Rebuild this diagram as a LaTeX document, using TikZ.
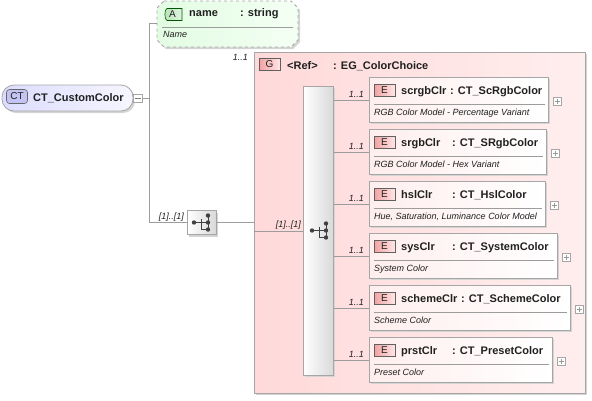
\documentclass[tikz,border=0pt]{standalone}
\usepackage{fontspec}
\setmainfont{Liberation Sans}
\usetikzlibrary{calc}
\definecolor{linec}{HTML}{9C9C9C}
\definecolor{bordc}{HTML}{A6A6A6}
\definecolor{shadc}{HTML}{D4D4D4}
\definecolor{grpL}{HTML}{FFD9D9}
\definecolor{grpR}{HTML}{FFEEEE}
\definecolor{elL}{HTML}{FFEEEE}
\definecolor{badL}{HTML}{F2A2A2}
\definecolor{badR}{HTML}{FFE6E6}
\definecolor{ctL}{HTML}{DCDCFF}
\definecolor{ctR}{HTML}{F6F6FF}
\definecolor{ctbad}{HTML}{C4C4F4}
\definecolor{atL}{HTML}{E2FCE2}
\definecolor{atR}{HTML}{F4FFF4}
\definecolor{atbad}{HTML}{B6E4B6}
\definecolor{txt}{HTML}{202020}
\tikzset{
  conn/.style={draw=linec, line width=0.8pt},
  shad/.style={fill=shadc},
  hdr/.style={font=\fontsize{11}{12}\selectfont\bfseries, text=txt, inner sep=0pt, anchor=base west},
  desc/.style={font=\fontsize{9}{10}\selectfont\itshape, text=txt, inner sep=0pt, anchor=base west},
  mult/.style={font=\fontsize{9}{10}\selectfont\itshape, text=txt, inner sep=0pt, anchor=base east},
  elbox/.style={draw=bordc, line width=0.8pt, left color=elL, right color=white, inner sep=0pt, anchor=north west, minimum height=45pt},
  ebadge/.style={draw=gray!75!black, line width=0.6pt, left color=badL, right color=badR, minimum width=21pt, minimum height=12pt, inner sep=0pt, font=\fontsize{10}{10}\selectfont, text=txt},
  plusbox/.style={draw=bordc, fill=white, minimum width=8pt, minimum height=8pt, inner sep=0pt, line width=0.6pt},
  icon/.style={draw=black!75, line width=0.7pt},
  sep/.style={draw=linec, line width=0.7pt}
}
\newcommand\elem[7]{%
  \fill[shad] (371,#2+2) rectangle (#3+2,#2+47);
  \node[elbox, minimum width={(#3-369)*1pt}] (#1) at (369,#2) {};
  \node[ebadge] (#1b) at (384.5,#2+13) {E};
  \node[hdr] (#1n) at (401,#2+17) {#4};
  \node[hdr] (#1t) at (#5,#2+17) {#6};
  \draw[sep] (374,#2+27) -- (#3-3,#2+27);
  \node[desc] (#1d) at (374,#2+38) {#7};
  \node[plusbox] (#1p) at (#3+9,#2+24.5) {};
  \draw[draw=gray!80, line width=0.6pt] ($(#1p.center)+(-2.5,0)$) -- ($(#1p.center)+(2.5,0)$) ($(#1p.center)+(0,-2.5)$) -- ($(#1p.center)+(0,2.5)$);
  \draw[conn] (choice.east |- #1.west) -- (#1.west);
  \node[mult] (#1m) at (364,#2+20.5) {1..1};
}
\newcommand\seqicon[2]{%
  \begin{scope}[shift={(#1,#2)}]
    \draw[icon] (-8,0) -- (-1,0) (-1,-4) -- (-1,7) -- (6,7) (-1,0) -- (6,0) (6,-7) -- (6,7);
    \fill[black!75] (-8,0) circle (2.2) (6,-7) circle (2.2) (6,0) circle (2.2) (6,7) circle (2.2);
  \end{scope}}
\begin{document}
\begin{tikzpicture}[x=1pt,y=-1pt]
\useasboundingbox (0,0) rectangle (592,400);
% CT node
\fill[shad, rounded corners=12pt] (4,87) rectangle (135,113);
\node[draw=bordc, line width=0.8pt, rounded corners=12pt, left color=ctL, right color=ctR, minimum width=131pt, minimum height=26pt, inner sep=0pt] (ct) at (67.5,98) {};
\node[draw=black!60, line width=0.6pt, fill=ctbad, rounded corners=3pt, minimum width=21pt, minimum height=14pt, inner sep=0pt, font=\fontsize{10}{10}\selectfont, text=txt] (ctb) at (17,96.5) {CT};
\node[hdr] (ctn) at (33,101.5) {CT\_CustomColor};
\node[draw=bordc, fill=white, minimum width=9pt, minimum height=8pt, inner sep=0pt, line width=0.6pt] (ctm) at (137.5,98.5) {};
\draw[draw=gray, line width=0.6pt] (134.5,98.5) -- (140.5,98.5);
% attribute
\fill[shad] (166,3) -- (293,3) -- (300,10) -- (300,42) -- (293,49) -- (166,49) -- (159,42) -- (159,10) -- cycle;
\draw[draw=bordc, line width=0.8pt, dashed, left color=atL, right color=atR] (164,1) -- (291,1) -- (298,8) -- (298,40) -- (291,47) -- (164,47) -- (157,40) -- (157,8) -- cycle;
\node[inner sep=0pt, minimum width=141pt, minimum height=46pt] (attr) at (227.5,24) {};
\draw[draw=green!35!black, line width=0.6pt, left color=atbad, right color=atbad!40] (167,8.5) -- (182,8.5) -- (182,20.5) -- (167,20.5) to[out=180,in=180, looseness=0.6] (167,8.5) -- cycle;
\node[inner sep=0pt, font=\fontsize{10}{10}\selectfont, text=txt] (attrb) at (172.5,14.5) {A};
\node[hdr] (attrn) at (189,16) {name};
\node[hdr] (attrt) at (240,16) {: string};
\draw[sep] (162,27) -- (293,27);
\node[desc] (attrd) at (163,37) {Name};
% left trunk
\coordinate (trunk) at (149,98.5);
\coordinate (trunktop) at (149,23);
\draw[conn] (ctm.east) -- (trunk);
\draw[conn] (trunktop) -- (attr.west |- trunktop);
% sequence box
\fill[shad] (189,213) rectangle (218,237);
\node[draw=bordc, line width=0.8pt, left color=white, right color=gray!30, minimum width=29pt, minimum height=24pt, inner sep=0pt] (seq) at (201.5,222.5) {};
\seqicon{202}{222.5}
\coordinate (trunkbot) at (149,222.5);
\draw[conn] (trunktop) -- (trunkbot) -- (seq.west);
\node[mult] (seqm) at (184,219.5) {[1]..[1]};
% group
\fill[shad] (256,54) rectangle (587,395);
\node[draw=bordc, line width=0.9pt, left color=grpL, right color=grpR, minimum width=331pt, minimum height=341pt, inner sep=0pt, anchor=north west] (grp) at (254,52) {};
\node[mult] (grpm) at (248,60) {1..1};
\node[ebadge] (grpb) at (269.5,64.5) {G};
\node[hdr] (grpn) at (287,69) {<Ref>};
\node[hdr] (grpt) at (333,69) {: EG\_ColorChoice};
\draw[conn] (seq.east) -- (seq.east -| grp.west);
% choice bar
\fill[shad] (305,88) rectangle (335,377);
\node[draw=bordc, line width=0.8pt, left color=white, right color=gray!30, minimum width=30pt, minimum height=289pt, inner sep=0pt, anchor=north west] (choice) at (303,86) {};
\seqicon{320}{230.5}
\draw[conn] (grp.west |- choice.west) -- (choice.west);
\node[mult] (choicem) at (301,227) {[1]..[1]};
% elements
\elem{e1}{77}{548}{scrgbClr}{450}{: CT\_ScRgbColor}{RGB Color Model - Percentage Variant}
\elem{e2}{129}{546}{srgbClr}{452}{: CT\_SRgbColor}{RGB Color Model - Hex Variant}
\elem{e3}{181}{545}{hslClr}{452}{: CT\_HslColor}{Hue, Saturation, Luminance Color Model}
\elem{e4}{233}{557}{sysClr}{452}{: CT\_SystemColor}{System Color}
\elem{e5}{285}{570}{schemeClr}{461}{: CT\_SchemeColor}{Scheme Color}
\elem{e6}{337}{552}{prstClr}{452}{: CT\_PresetColor}{Preset Color}
\end{tikzpicture}
\end{document}
